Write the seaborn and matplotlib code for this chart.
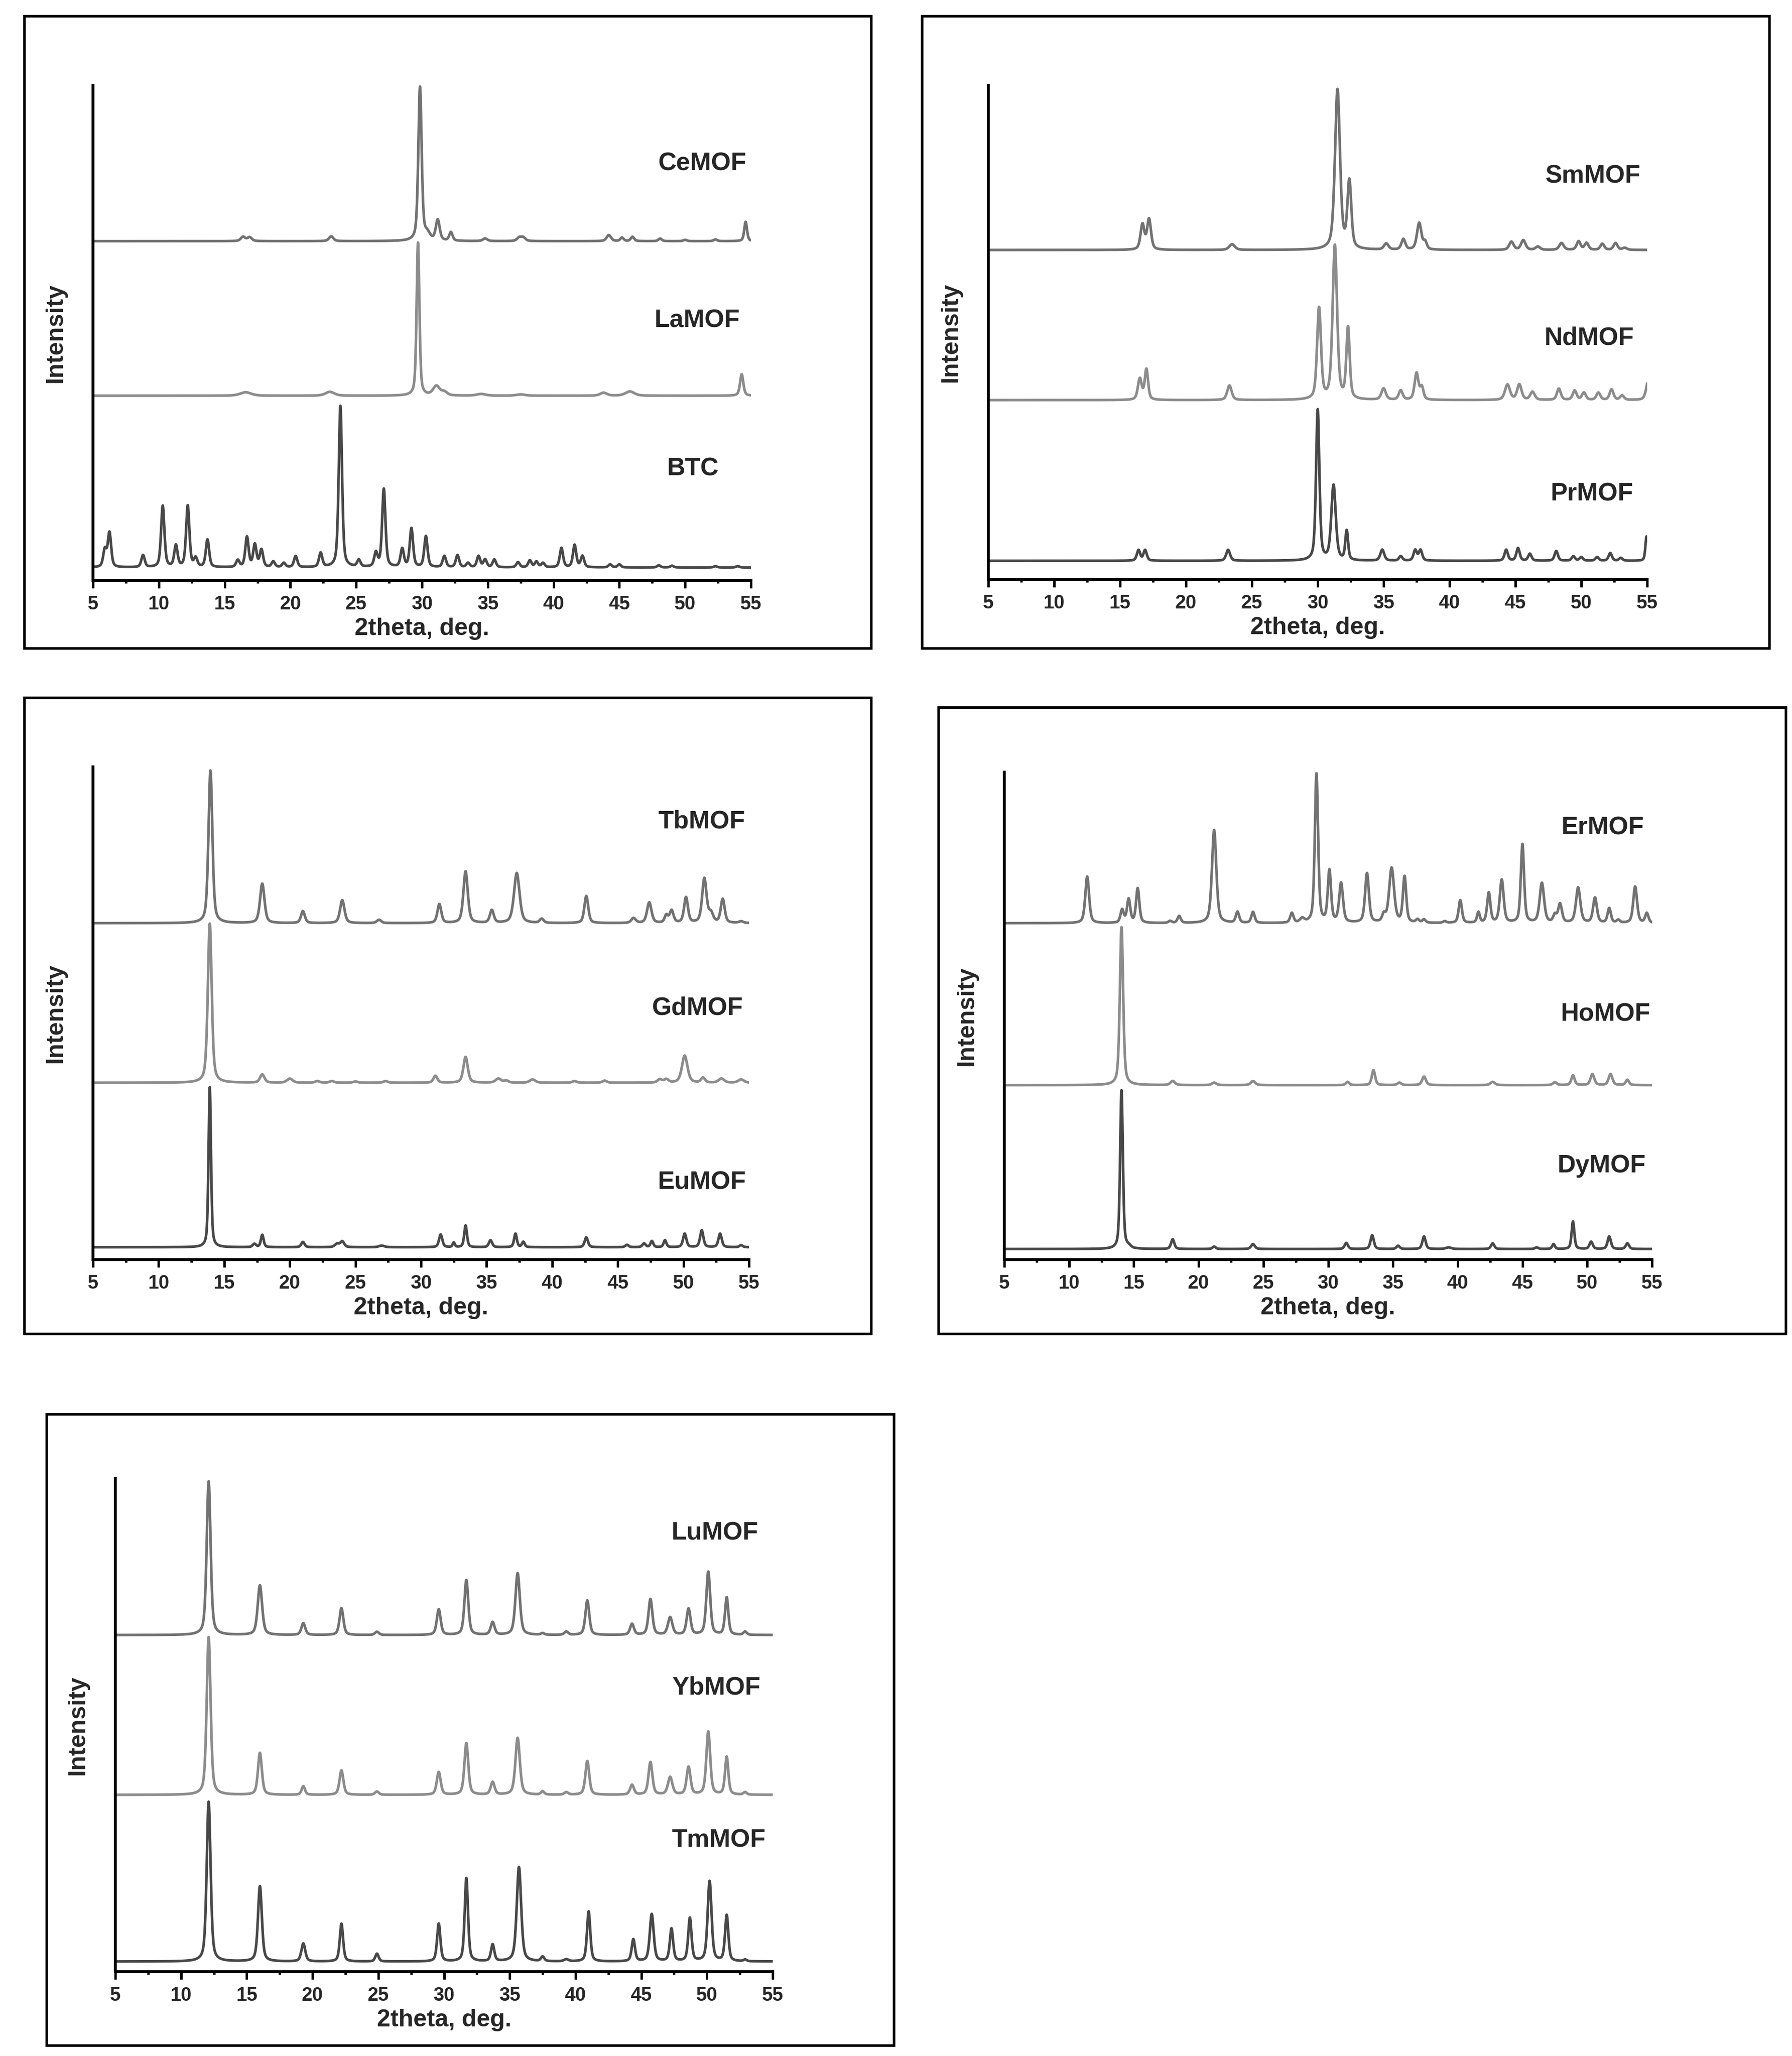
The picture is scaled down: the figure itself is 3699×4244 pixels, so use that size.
import numpy as np
import matplotlib
matplotlib.use("Agg")
import matplotlib.pyplot as plt
from matplotlib.patches import Rectangle
from matplotlib.ticker import MultipleLocator
import seaborn as sns

# peak lists: 2theta (deg), height (a.u.), fwhm (deg)
btc_pos = [5.9, 6.25, 8.8, 10.3, 11.3, 12.2, 12.8, 13.7, 16.0, 16.7, 17.3, 17.8, 18.7, 19.5, 20.4,
           22.3, 23.8, 25.2, 26.5, 27.1, 28.5, 29.2, 30.3, 31.7, 32.7, 33.5, 34.3, 34.8, 35.5, 37.3,
           38.2, 38.7, 39.2, 40.6, 41.6, 42.2, 44.3, 45.0, 48.0, 49.0, 52.3, 54.0]
btc_hgt = [40, 80, 28, 143, 50, 143, 20, 64, 16, 70, 52, 40, 13, 10, 26,
           33, 376, 16, 32, 182, 42, 90, 72, 26, 28, 10, 26, 18, 18, 12,
           16, 13, 10, 45, 52, 26, 7, 7, 5, 4, 3, 3]
btc_fwhm = [0.3] * len(btc_pos)

ce_pos = [16.4, 16.9, 23.1, 29.85, 30.4, 31.2, 32.2, 34.8, 37.4, 37.7, 44.2, 45.2, 46.0, 48.1, 50.0, 52.3, 54.6]
ce_hgt = [10, 9, 11, 358, 15, 48, 20, 6, 8, 8, 14, 8, 10, 6, 3, 4, 45]
ce_fwhm = [0.4, 0.4, 0.4, 0.3, 0.5, 0.35, 0.3, 0.4, 0.4, 0.4, 0.4, 0.3, 0.3, 0.3, 0.3, 0.3, 0.25]

la_pos = [16.6, 23.0, 29.7, 31.1, 31.7, 34.5, 37.5, 43.8, 45.8, 54.3]
la_hgt = [8, 9, 356, 22, 8, 4, 3, 7, 10, 50]
la_fwhm = [1.0, 0.8, 0.25, 0.6, 0.5, 0.8, 0.8, 0.6, 0.8, 0.3]

sm_pos = [16.7, 17.2, 23.5, 31.5, 32.4, 35.2, 36.5, 37.7, 38.15, 44.7, 45.6, 46.7, 48.5, 49.8, 50.4, 51.6, 52.6, 53.3]
sm_hgt = [62, 75, 14, 395, 165, 15, 26, 66, 18, 20, 24, 8, 17, 21, 17, 15, 17, 5]
sm_fwhm = [0.35, 0.35, 0.5, 0.45, 0.35, 0.4, 0.35, 0.4, 0.3, 0.4, 0.4, 0.4, 0.4, 0.35, 0.35, 0.35, 0.35, 0.4]

nd_pos = [16.5, 17.0, 23.3, 30.1, 31.3, 32.3, 35.0, 36.3, 37.5, 37.9, 44.4, 45.3, 46.3, 48.3, 49.5, 50.2,
          51.3, 52.3, 53.1, 55.1]
nd_hgt = [52, 75, 36, 225, 380, 175, 28, 23, 66, 30, 38, 38, 20, 28, 23, 18, 18, 26, 11, 50]
nd_fwhm = [0.35, 0.3, 0.4, 0.35, 0.4, 0.3, 0.4, 0.35, 0.35, 0.3, 0.45, 0.4, 0.4, 0.35, 0.35, 0.35,
           0.35, 0.35, 0.35, 0.4]

pr_pos = [16.4, 16.9, 23.2, 30.0, 31.2, 32.2, 34.9, 36.3, 37.4, 37.8, 44.3, 45.2, 46.1, 48.1, 49.4, 50.0,
          51.2, 52.2, 53.0, 54.95]
pr_hgt = [26, 26, 27, 372, 185, 72, 27, 11, 26, 26, 27, 31, 17, 24, 11, 9, 9, 19, 7, 60]
pr_fwhm = [0.3, 0.3, 0.35, 0.3, 0.4, 0.25, 0.35, 0.3, 0.3, 0.3, 0.3, 0.3, 0.3, 0.3, 0.3, 0.3,
           0.3, 0.3, 0.3, 0.2]

tb_pos = [13.95, 17.9, 21.0, 24.0, 26.8, 31.4, 33.4, 35.4, 37.3, 39.2, 42.6, 46.2, 47.4, 48.7, 49.1, 50.2,
          51.6, 52.1, 53.0, 54.4]
tb_hgt = [372, 96, 29, 56, 8, 46, 126, 31, 122, 10, 66, 12, 50, 18, 30, 62, 108, 22, 58, 4]
tb_fwhm = [0.35, 0.4, 0.35, 0.4, 0.4, 0.35, 0.4, 0.35, 0.5, 0.35, 0.35, 0.4, 0.4, 0.3, 0.35, 0.35,
           0.4, 0.4, 0.35, 0.4]

gd_pos = [13.9, 17.9, 20.0, 22.1, 23.2, 25.0, 27.3, 31.1, 33.4, 35.9, 36.5, 38.5, 41.7, 44.0, 48.2, 48.7,
          50.1, 51.5, 52.9, 54.4]
gd_hgt = [388, 20, 10, 4, 4, 3, 4, 17, 63, 10, 5, 8, 4, 5, 8, 8, 66, 12, 10, 8]
gd_fwhm = [0.35, 0.4, 0.5, 0.4, 0.4, 0.4, 0.4, 0.35, 0.4, 0.5, 0.4, 0.5, 0.4, 0.4, 0.4, 0.4,
           0.5, 0.35, 0.5, 0.5]

eu_pos = [13.9, 17.3, 17.9, 21.0, 23.6, 24.0, 27.0, 31.5, 32.5, 33.4, 35.3, 37.2, 37.8, 42.6, 45.7, 47.0,
          47.6, 48.6, 50.1, 51.4, 52.8, 54.4]
eu_hgt = [390, 8, 30, 13, 8, 14, 4, 31, 11, 53, 17, 33, 13, 24, 6, 9, 15, 17, 33, 41, 33, 5]
eu_fwhm = [0.22, 0.3, 0.25, 0.3, 0.4, 0.35, 0.5, 0.3, 0.2, 0.25, 0.3, 0.25, 0.25, 0.3, 0.3, 0.3,
           0.25, 0.25, 0.3, 0.3, 0.3, 0.3]

er_pos = [11.4, 14.1, 14.6, 15.3, 17.8, 18.5, 21.2, 23.0, 24.2, 27.2, 28.0, 29.1, 30.1, 31.0, 33.0, 34.3,
          34.9, 35.9, 36.9, 37.4, 39.0, 40.2, 41.6, 42.4, 43.4, 45.0, 46.5, 47.5, 47.9, 49.3, 50.6, 51.7,
          52.4, 53.7, 54.6]
er_hgt = [115, 32, 58, 85, 5, 17, 230, 27, 27, 24, 10, 368, 127, 97, 122, 18,
          135, 113, 8, 8, 4, 56, 26, 74, 106, 194, 98, 18, 46, 87, 62, 36,
          7, 90, 24]
er_fwhm = [0.35, 0.3, 0.3, 0.3, 0.3, 0.3, 0.4, 0.3, 0.3, 0.3, 0.4, 0.3, 0.3, 0.35, 0.35, 0.3,
           0.45, 0.3, 0.3, 0.3, 0.3, 0.3, 0.25, 0.3, 0.35, 0.3, 0.4, 0.3, 0.35, 0.4, 0.35, 0.3,
           0.3, 0.35, 0.3]

ho_pos = [14.05, 18.0, 21.2, 24.2, 31.5, 33.5, 35.5, 37.4, 42.7, 47.5, 48.9, 50.4, 51.8, 53.1]
ho_hgt = [390, 10, 6, 10, 8, 37, 6, 21, 8, 7, 24, 27, 27, 13]
ho_fwhm = [0.3, 0.4, 0.4, 0.4, 0.3, 0.3, 0.35, 0.35, 0.4, 0.35, 0.3, 0.35, 0.35, 0.3]

dy_pos = [14.05, 14.6, 18.0, 21.2, 24.2, 31.4, 33.4, 35.4, 37.4, 39.3, 42.7, 46.1, 47.4, 48.9, 50.3, 51.7, 53.1]
dy_hgt = [392, 5, 24, 6, 12, 15, 34, 8, 31, 4, 14, 4, 12, 68, 18, 31, 14]
dy_fwhm = [0.25, 0.4, 0.3, 0.3, 0.35, 0.3, 0.3, 0.3, 0.3, 0.5, 0.3, 0.3, 0.25, 0.25, 0.3, 0.3, 0.3]

lu_pos = [12.1, 16.0, 19.3, 22.2, 24.9, 29.6, 31.7, 33.7, 35.6, 37.5, 39.3, 40.9, 44.3, 45.7, 47.2, 48.6,
          50.1, 51.5, 52.9]
lu_hgt = [378, 122, 29, 66, 8, 63, 135, 31, 152, 4, 8, 85, 27, 88, 43, 64, 155, 92, 8]
lu_fwhm = [0.35, 0.4, 0.35, 0.35, 0.35, 0.35, 0.35, 0.35, 0.4, 0.3, 0.35, 0.35, 0.35, 0.35, 0.4, 0.35,
           0.35, 0.3, 0.3]

yb_pos = [12.1, 16.0, 19.3, 22.2, 24.9, 29.6, 31.7, 33.7, 35.6, 37.5, 39.3, 40.9, 44.3, 45.7, 47.2, 48.6,
          50.1, 51.5, 52.9]
yb_hgt = [388, 103, 21, 60, 8, 56, 127, 31, 140, 8, 6, 83, 24, 80, 43, 68, 155, 93, 6]
yb_fwhm = [0.35, 0.35, 0.3, 0.35, 0.35, 0.35, 0.35, 0.35, 0.4, 0.3, 0.35, 0.35, 0.35, 0.35, 0.4, 0.35,
           0.35, 0.3, 0.3]

tm_pos = [12.1, 16.0, 19.3, 22.2, 24.9, 29.6, 31.7, 33.7, 35.7, 37.5, 39.3, 41.0, 44.4, 45.8, 47.3, 48.7,
          50.2, 51.5, 52.9]
tm_hgt = [393, 185, 44, 93, 19, 93, 205, 41, 232, 11, 5, 123, 54, 116, 80, 106, 197, 113, 4]
tm_fwhm = [0.35, 0.35, 0.35, 0.3, 0.3, 0.3, 0.3, 0.3, 0.4, 0.3, 0.4, 0.3, 0.3, 0.35, 0.3, 0.3,
           0.35, 0.3, 0.3]

W, H = 3699, 4244
x = np.linspace(5, 55, 5001)


def pattern(pos, hgt, fwhm, eta=0.5):
    # pseudo-Voigt sum of the listed reflections
    y = np.zeros_like(x)
    for p, h, w in zip(pos, hgt, fwhm):
        d = 4 * (x - p) ** 2 / w ** 2
        y += h * (eta / (1 + d) + (1 - eta) * np.exp(-np.log(2) * d))
    return y


C_TOP, C_MID, C_BOT = "#727272", "#8c8c8c", "#484848"

# frame (x0, y0, x1, y1) and axes (x0, y0, x1, y1) in pixels, y from top
panels = [
    dict(frame=(50, 33, 1798, 1338), axes=(192, 176, 1550, 1198), top=1153,
         series=[("CeMOF", ce_pos, ce_hgt, ce_fwhm, 790, C_TOP, 51.3, 970),
                 ("LaMOF", la_pos, la_hgt, la_fwhm, 430, C_MID, 50.9, 605),
                 ("BTC", btc_pos, btc_hgt, btc_fwhm, 30, C_BOT, 50.6, 260)]),
    dict(frame=(1903, 33, 3652, 1338), axes=(2040, 176, 3400, 1196), top=1221,
         series=[("SmMOF", sm_pos, sm_hgt, sm_fwhm, 814, C_TOP, 50.9, 996),
                 ("NdMOF", nd_pos, nd_hgt, nd_fwhm, 443, C_MID, 50.6, 596),
                 ("PrMOF", pr_pos, pr_hgt, pr_fwhm, 46, C_BOT, 50.8, 211)]),
    dict(frame=(50, 1440, 1798, 2753), axes=(192, 1583, 1546, 2600), top=1201,
         series=[("TbMOF", tb_pos, tb_hgt, tb_fwhm, 820, C_TOP, 51.4, 1068),
                 ("GdMOF", gd_pos, gd_hgt, gd_fwhm, 431, C_MID, 51.1, 613),
                 ("EuMOF", eu_pos, eu_hgt, eu_fwhm, 30, C_BOT, 51.4, 188)]),
    dict(frame=(1937, 1460, 3686, 2753), axes=(2073, 1594, 3410, 2600), top=1204,
         series=[("ErMOF", er_pos, er_hgt, er_fwhm, 831, C_TOP, 51.2, 1066),
                 ("HoMOF", ho_pos, ho_hgt, ho_fwhm, 431, C_MID, 51.4, 606),
                 ("DyMOF", dy_pos, dy_hgt, dy_fwhm, 26, C_BOT, 51.1, 231)]),
    dict(frame=(96, 2919, 1845, 4222), axes=(238, 3052, 1595, 4070), top=1213,
         series=[("LuMOF", lu_pos, lu_hgt, lu_fwhm, 828, C_TOP, 50.6, 1078),
                 ("YbMOF", yb_pos, yb_hgt, yb_fwhm, 435, C_MID, 50.7, 698),
                 ("TmMOF", tm_pos, tm_hgt, tm_fwhm, 25, C_BOT, 50.9, 323)]),
]

sns.set_style("ticks")
plt.rcParams['font.family'] = ['Liberation Sans', 'DejaVu Sans']
plt.rcParams['font.weight'] = 'bold'
plt.rcParams['axes.labelweight'] = 'bold'

fig = plt.figure(figsize=(W / 300, H / 300), dpi=300)

for pan in panels:
    fx0, fy0, fx1, fy1 = pan['frame']
    fig.add_artist(Rectangle((fx0 / W, 1 - fy1 / H), (fx1 - fx0) / W, (fy1 - fy0) / H,
                             transform=fig.transFigure, fill=False, ec='black', lw=1.3))
    ax0, ay0, ax1, ay1 = pan['axes']
    ax = fig.add_axes([ax0 / W, 1 - ay1 / H, (ax1 - ax0) / W, (ay1 - ay0) / H])
    for name, pos, hgt, fwhm, off, col, lx, ly in pan['series']:
        y = pattern(pos, hgt, fwhm) + off
        sns.lineplot(x=x, y=y, ax=ax, color=col, linewidth=1.3, estimator=None, sort=False)
        ax.text(lx, ly, name, ha='center', va='center', fontsize=12.5, fontweight='bold')

    ax.set_xlim(5, 55)
    ax.set_ylim(0, pan['top'])
    ax.set_yticks([])
    ax.xaxis.set_major_locator(MultipleLocator(5))
    ax.xaxis.set_minor_locator(MultipleLocator(2.5))
    ax.tick_params(axis='x', which='major', length=3.8, width=1.2, direction='out',
                   labelsize=9.5, pad=3.5, color='black')
    ax.tick_params(axis='x', which='minor', length=1.5, width=1.2, direction='out', color='black')
    for lbl in ax.get_xticklabels():
        lbl.set_fontweight('bold')
    for s in ['top', 'right']:
        ax.spines[s].set_visible(False)
    for s in ['left', 'bottom']:
        ax.spines[s].set_linewidth(1.45)
        ax.spines[s].set_color('black')
    ax.set_xlabel("2theta, deg.", fontsize=12, fontweight='bold', labelpad=2)
    ax.set_ylabel("Intensity", fontsize=12, fontweight='bold', labelpad=13)

fig.savefig("out.png", dpi=300)
